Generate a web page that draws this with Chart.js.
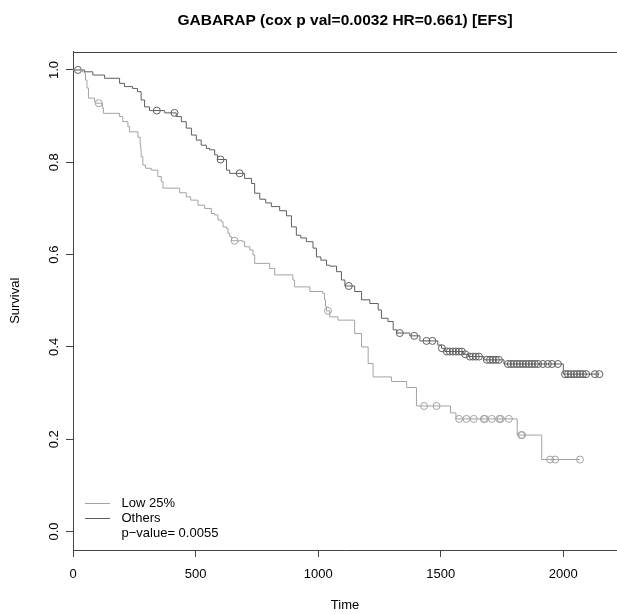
<!DOCTYPE html>
<html lang="en">
<head>
  <meta charset="UTF-8" />
  <title>GABARAP EFS</title>
  <script src="https://cdn.jsdelivr.net/npm/chart.js"></script>
  <style>
    html, body { margin: 0; padding: 0; background: #fff; }
    #km { display: block; }
  </style>
</head>
<body>
  <canvas id="km" width="617" height="614"></canvas>

  <script>
    // ---- data ----
    const chartTitle = 'GABARAP (cox p val=0.0032 HR=0.661) [EFS]';
    const xTicks = [0, 500, 1000, 1500, 2000];
    const yTicks = [0.0, 0.2, 0.4, 0.6, 0.8, 1.0];
    const legendLabels = ['Low 25%', 'Others', 'p\u2212value= 0.0055'];

    // Others: event times and survival after each event
    const othersTime = [0, 47, 81, 129, 190, 210, 243, 263, 278, 292, 312, 374, 421, 442, 462, 483, 503, 523, 544, 557,
      578, 590, 626, 639, 700, 728, 741, 762, 786, 809, 843, 871, 891, 911, 929, 952, 979, 993, 1011, 1034,
      1047, 1075, 1095, 1109, 1149, 1177, 1211, 1245, 1258, 1285, 1306, 1321, 1374, 1415, 1488, 1503, 1517, 1592, 1612, 1676,
      1758, 2000];
    const othersSurv = [1.000, 0.996, 0.989, 0.982, 0.971, 0.964, 0.960, 0.953, 0.935, 0.920, 0.912, 0.907, 0.899, 0.888, 0.874, 0.859, 0.848, 0.837, 0.830, 0.827,
      0.816, 0.806, 0.783, 0.776, 0.765, 0.754, 0.733, 0.720, 0.712, 0.704, 0.695, 0.684, 0.660, 0.642, 0.636, 0.628, 0.614, 0.595, 0.588, 0.577,
      0.575, 0.563, 0.545, 0.532, 0.520, 0.502, 0.494, 0.480, 0.462, 0.455, 0.437, 0.430, 0.424, 0.413, 0.404, 0.397, 0.390, 0.384, 0.379, 0.372,
      0.363, 0.341];
    const othersCensor = [20, 342, 414, 602, 680, 1125, 1333, 1392, 1442, 1466, 1505, 1525, 1537, 1550, 1562, 1574, 1586, 1600,
      1619, 1631, 1643, 1656, 1688, 1701, 1713, 1725, 1737, 1774, 1786, 1798, 1811, 1823, 1835, 1847, 1860, 1872, 1884, 1897,
      1917, 1937, 1954, 1978, 2007, 2019, 2031, 2044, 2056, 2068, 2080, 2093, 2129, 2147];

    // Low 25%
    const lowTime = [0, 39, 47, 51, 57, 63, 88, 92, 120, 124, 190, 203, 224, 231, 265, 274, 276, 278, 285, 296,
      319, 346, 360, 367, 435, 462, 480, 510, 537, 564, 578, 591, 605, 612, 626, 632, 639, 647, 693, 700,
      721, 734, 741, 802, 823, 897, 904, 966, 1019, 1026, 1030, 1034, 1047, 1081, 1149, 1177, 1204, 1224, 1299, 1361,
      1401, 1540, 1562, 1812, 1912];
    const lowSurv = [1.000, 0.996, 0.993, 0.978, 0.961, 0.939, 0.931, 0.928, 0.918, 0.906, 0.899, 0.888, 0.877, 0.866, 0.854, 0.841, 0.830, 0.812, 0.794, 0.787,
      0.783, 0.769, 0.758, 0.744, 0.734, 0.725, 0.718, 0.707, 0.700, 0.689, 0.686, 0.675, 0.671, 0.660, 0.657, 0.646, 0.639, 0.630, 0.628, 0.617,
      0.610, 0.599, 0.581, 0.570, 0.556, 0.545, 0.530, 0.520, 0.516, 0.502, 0.488, 0.478, 0.465, 0.458, 0.429, 0.400, 0.364, 0.335, 0.325, 0.312,
      0.272, 0.257, 0.244, 0.209, 0.156];
    const lowCensor = [105, 659, 1040, 1432, 1483, 1575, 1605, 1635, 1676, 1680, 1708, 1739, 1745, 1778, 1828, 1832, 1946, 1967, 2068];

    // ---- styling ----
    const FONT = '"Liberation Sans", Arial, Helvetica, sans-serif';
    const AXIS = '#444';
    const LOW_COLOR = '#a3a3a3';
    const OTHERS_COLOR = '#5e5e5e';
    const legendColors = [LOW_COLOR, OTHERS_COLOR, null];

    // survival value of a step curve at time t
    function survAt(times, surv, t) {
      let s = surv[0];
      for (let i = 0; i < times.length; i++) {
        if (times[i] <= t) s = surv[i];
      }
      return s;
    }

    // step curve points, carried on to the last censored time
    function curvePoints(times, surv, censor) {
      const pts = times.map((t, i) => ({ x: t, y: surv[i] }));
      const last = censor[censor.length - 1];
      if (last > times[times.length - 1]) pts.push({ x: last, y: surv[surv.length - 1] });
      return pts;
    }

    function censorPoints(times, surv, censor) {
      return censor.map(t => ({ x: t, y: survAt(times, surv, t) }));
    }

    // top frame line + legend drawn in R style
    const kmExtras = {
      id: 'kmExtras',
      afterDraw(chart) {
        const { ctx, chartArea } = chart;
        ctx.save();
        ctx.strokeStyle = AXIS;
        ctx.lineWidth = 1;
        ctx.beginPath();
        ctx.moveTo(chartArea.left, Math.round(chartArea.top) + 0.5);
        ctx.lineTo(chartArea.right, Math.round(chartArea.top) + 0.5);
        ctx.stroke();

        ctx.font = '13px ' + FONT;
        ctx.textBaseline = 'middle';
        ctx.textAlign = 'left';
        ctx.fillStyle = '#000';
        legendLabels.forEach((label, i) => {
          const y = 503 + i * 15;
          if (legendColors[i]) {
            ctx.strokeStyle = legendColors[i];
            ctx.beginPath();
            ctx.moveTo(85, y + 0.5);
            ctx.lineTo(110, y + 0.5);
            ctx.stroke();
          }
          ctx.fillText(label, 121.5, y);
        });
        ctx.restore();
      }
    };

    const ctx = document.getElementById('km').getContext('2d');
    new Chart(ctx, {
      type: 'line',
      data: {
        datasets: [
          {
            label: 'Low 25%',
            data: curvePoints(lowTime, lowSurv, lowCensor),
            borderColor: LOW_COLOR,
            borderWidth: 1,
            stepped: 'before',
            pointRadius: 0,
            fill: false,
          },
          {
            label: 'Others',
            data: curvePoints(othersTime, othersSurv, othersCensor),
            borderColor: OTHERS_COLOR,
            borderWidth: 1,
            stepped: 'before',
            pointRadius: 0,
            fill: false,
          },
          {
            label: 'Low 25% censored',
            data: censorPoints(lowTime, lowSurv, lowCensor),
            showLine: false,
            pointStyle: 'circle',
            pointRadius: 3.5,
            pointBorderWidth: 1,
            pointBorderColor: LOW_COLOR,
            pointBackgroundColor: 'rgba(0,0,0,0)',
          },
          {
            label: 'Others censored',
            data: censorPoints(othersTime, othersSurv, othersCensor),
            showLine: false,
            pointStyle: 'circle',
            pointRadius: 3.5,
            pointBorderWidth: 1,
            pointBorderColor: OTHERS_COLOR,
            pointBackgroundColor: 'rgba(0,0,0,0)',
          },
        ],
      },
      options: {
        responsive: false,
        animation: false,
        devicePixelRatio: 1,
        layout: { padding: 0, autoPadding: false },
        plugins: {
          legend: { display: false },
          tooltip: { enabled: false },
          title: {
            display: true,
            text: chartTitle,
            fullSize: false,
            color: '#000',
            font: { family: FONT, size: 15.5, weight: 'bold' },
            padding: { top: 11.7, bottom: 21.2 },
          },
        },
        scales: {
          x: {
            type: 'linear',
            min: 0,
            max: 2219,
            afterBuildTicks: s => { s.ticks = xTicks.map(v => ({ value: v })); },
            afterFit: s => { s.height = 64; },
            grid: { drawOnChartArea: false, drawTicks: true, tickLength: 7, color: AXIS, tickColor: AXIS },
            border: { display: true, color: AXIS, width: 1 },
            ticks: {
              color: '#000',
              font: { family: FONT, size: 13 },
              padding: 10,
              maxRotation: 0,
              autoSkip: false,
              callback: v => String(v),
            },
            title: {
              display: true,
              text: 'Time',
              color: '#000',
              font: { family: FONT, size: 13 },
              padding: { top: 0, bottom: 1.2 },
            },
          },
          y: {
            type: 'linear',
            min: -0.04,
            max: 1.04,
            afterBuildTicks: s => { s.ticks = yTicks.map(v => ({ value: v })); },
            afterFit: s => { s.width = 73; },
            grid: { drawOnChartArea: false, drawTicks: true, tickLength: 7, color: AXIS, tickColor: AXIS },
            border: { display: true, color: AXIS, width: 1 },
            ticks: {
              color: '#000',
              font: { family: FONT, size: 13 },
              padding: 3,
              minRotation: 90,
              maxRotation: 90,
              crossAlign: 'center',
              callback: v => v.toFixed(1),
            },
            title: {
              display: true,
              text: 'Survival',
              color: '#000',
              font: { family: FONT, size: 13 },
              padding: { top: 7.5, bottom: 0 },
            },
          },
        },
      },
      plugins: [kmExtras],
    });
  </script>
</body>
</html>
